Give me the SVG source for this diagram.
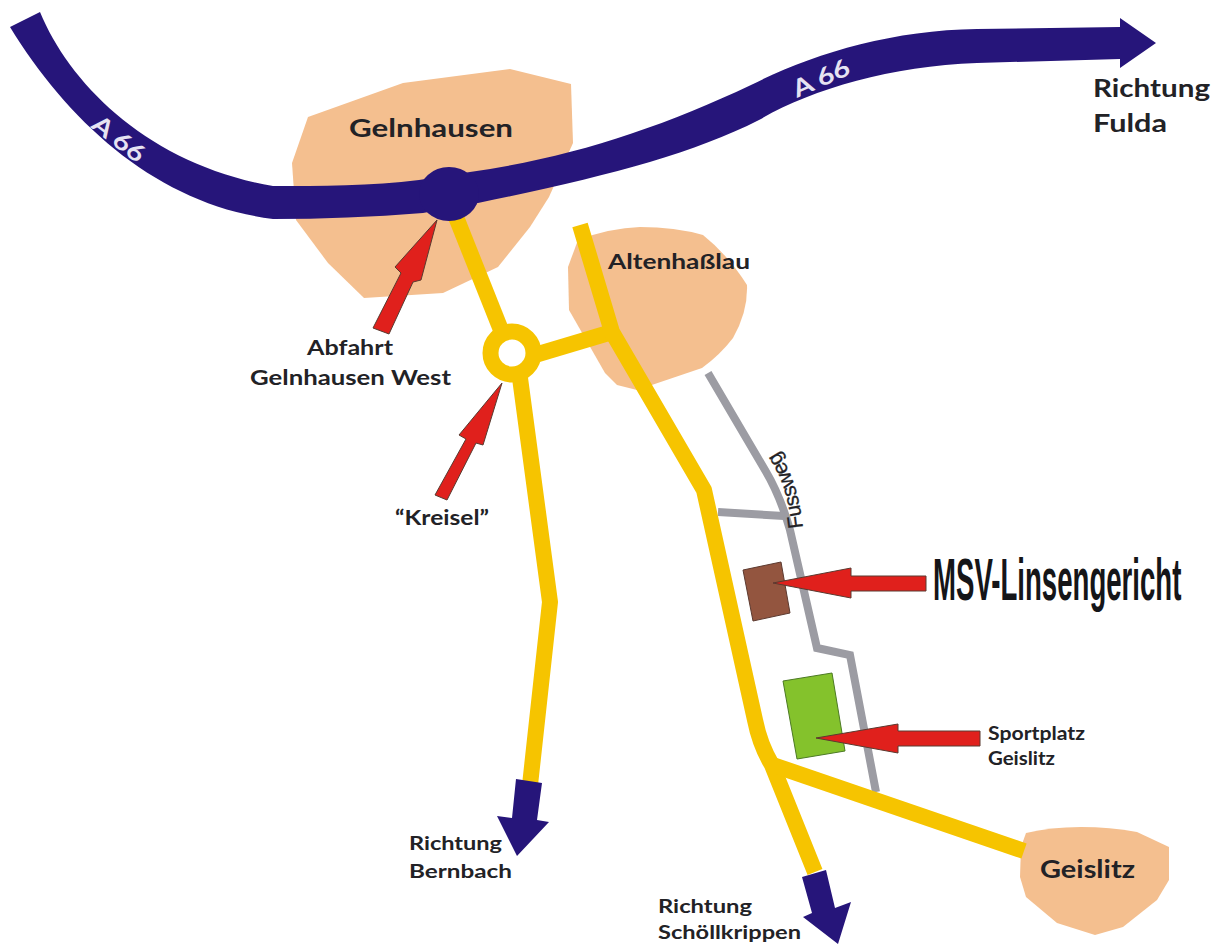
<svg xmlns="http://www.w3.org/2000/svg" width="1223" height="944" viewBox="0 0 1223 944">
<style>
.town{fill:#f4bf8f}
.road{fill:none;stroke:#f6c400;stroke-width:16;stroke-linejoin:round}
.foot{fill:none;stroke:#9c9ca3;stroke-width:8;stroke-linejoin:miter}
.navy{fill:#26157a}
.red{fill:#e0201c;stroke:#5a3a30;stroke-width:1}
.t{font-family:"Lato","Liberation Sans",sans-serif;font-weight:700;fill:#222226}
.w{font-family:"Lato","Liberation Sans",sans-serif;font-weight:700;fill:#e6e3f2;font-size:24px}
</style>
<defs><path id="fussweg-curve" d="M803 528Q798 478 775 447"/></defs>
<rect width="1223" height="944" fill="#ffffff"/>
<g id="connectors">
<path class="foot" d="M708 373L765 470Q780 495 790 530L817 648L850 655L876 792"/>
<path class="foot" d="M718 512L784 516"/>
</g>
<g id="town-gelnhausen">
<path class="town" d="M308 117L403 83L510 69L571 84L573 143L549 197L530 227L498 267L443 293L364 298L328 263L296 220L292 163Z"/>
<text class="t" x="349" y="137" font-size="24" textLength="164" lengthAdjust="spacingAndGlyphs">Gelnhausen</text>
</g>
<g id="town-altenhasslau">
<path class="town" d="M578 240Q610 228 640 227Q675 227 703 235Q728 255 747 285Q748 312 733 338Q720 355 702 368L637 390L617 385L605 373L569 310L568 267Z"/>
</g>
<g id="town-geislitz">
<path class="town" d="M1026 833Q1050 827 1081 827Q1110 827 1137 832L1169 847L1169 880L1157 900L1123 927L1095 935L1057 923L1026 897L1020 877L1021 847Z"/>
<text class="t" x="1040" y="878" font-size="24" textLength="95" lengthAdjust="spacingAndGlyphs">Geislitz</text>
</g>
<g id="roads">
<path class="road" d="M454 212L503 335"/>
<path class="road" d="M520 378L550 602L530 785"/>
<path class="road" d="M535 355L612 332"/>
<path class="road" d="M580 225L612 332L704 490L755 720Q760 745 772 765L815 872"/>
<path class="road" d="M770 764L1024 851"/>
<circle class="road" cx="512" cy="353" r="21.5"/>
</g>
<g id="town-label-altenhasslau">
<text class="t" x="608" y="269" font-size="20" textLength="142" lengthAdjust="spacingAndGlyphs">Altenhaßlau</text>
</g>
<g id="building-msv">
<path d="M743 570L781 562L790 613L753 621Z" fill="#93553f" stroke="#5c3a30" stroke-width="1"/>
</g>
<g id="sportplatz">
<path d="M783 681L832 673L845 751L797 759Z" fill="#84c22c" stroke="#4c7a24" stroke-width="1"/>
</g>
<g id="autobahn">
<path class="navy" d="M10 27L40 12C70 85 150 165 273 186C320 186 372 186 419 180L470 172C570 158 660 128 751 85C810 55 890 30 977 29L1120 27L1120 18L1156 43L1120 68L1120 59L977 63C890 66 810 90 759 120C690 155 600 178 478 203L423 213C372 217 322 219 273 219C160 205 70 125 10 27Z"/>
<ellipse class="navy" cx="449" cy="194" rx="30" ry="27"/>
<text class="w" transform="translate(90 127) rotate(38)" textLength="60" lengthAdjust="spacingAndGlyphs">A 66</text>
<text class="w" transform="translate(797 98) rotate(-24)" textLength="60" lengthAdjust="spacingAndGlyphs">A 66</text>
</g>
<g id="arrow-bernbach"><path class="navy" d="M516 779L542 783L537 820L549 822L517 856L497 816L512 818Z"/></g>
<g id="arrow-schoellkrippen"><path class="navy" d="M802 877L826 870L835 908L851 902L838 944L803 917L812 913Z"/></g>
<g id="arrow-abfahrt"><path class="red" d="M437 220L421 280L413 282L389 334L373 328L401 273L395 267Z"/></g>
<g id="arrow-kreisel"><path class="red" d="M502 383L483 445L476 443L447 500L435 495L466 439L459 435Z"/></g>
<g id="arrow-msv"><path class="red" d="M773 583L851 568L851 576L926 576L926 591L851 591L851 598Z"/></g>
<g id="arrow-sportplatz"><path class="red" d="M816 738L898 724L898 731L980 731L980 746L898 746L898 753Z"/></g>
<g id="labels">
<text class="t" x="1093" y="97" font-size="24" textLength="117" lengthAdjust="spacingAndGlyphs">Richtung</text>
<text class="t" x="1093" y="132" font-size="24" textLength="74" lengthAdjust="spacingAndGlyphs">Fulda</text>
<text class="t" x="307" y="355" font-size="21" textLength="86" lengthAdjust="spacingAndGlyphs">Abfahrt</text>
<text class="t" x="250" y="385" font-size="21" textLength="201" lengthAdjust="spacingAndGlyphs">Gelnhausen West</text>
<text class="t" x="395" y="525" font-size="20" textLength="94" lengthAdjust="spacingAndGlyphs">“Kreisel”</text>
<text class="t" x="409" y="850" font-size="19" textLength="93" lengthAdjust="spacingAndGlyphs">Richtung</text>
<text class="t" x="409" y="878" font-size="19" textLength="103" lengthAdjust="spacingAndGlyphs">Bernbach</text>
<text class="t" x="658" y="913" font-size="19" textLength="94" lengthAdjust="spacingAndGlyphs">Richtung</text>
<text class="t" x="658" y="939" font-size="19" textLength="143" lengthAdjust="spacingAndGlyphs">Schöllkrippen</text>
<text class="t" x="988" y="740" font-size="18" textLength="97" lengthAdjust="spacingAndGlyphs">Sportplatz</text>
<text class="t" x="988" y="765" font-size="18" textLength="67" lengthAdjust="spacingAndGlyphs">Geislitz</text>
<text transform="translate(933 600) scale(0.46 1)" font-family="'Liberation Sans',sans-serif" font-weight="700" font-size="60" fill="#151518">MSV-Linsengericht</text>
<text font-family="'Liberation Sans',sans-serif" font-size="21" letter-spacing="-0.4" fill="#222226" stroke="#222226" stroke-width="0.3"><textPath href="#fussweg-curve">Fussweg</textPath></text>
</g>
</svg>
